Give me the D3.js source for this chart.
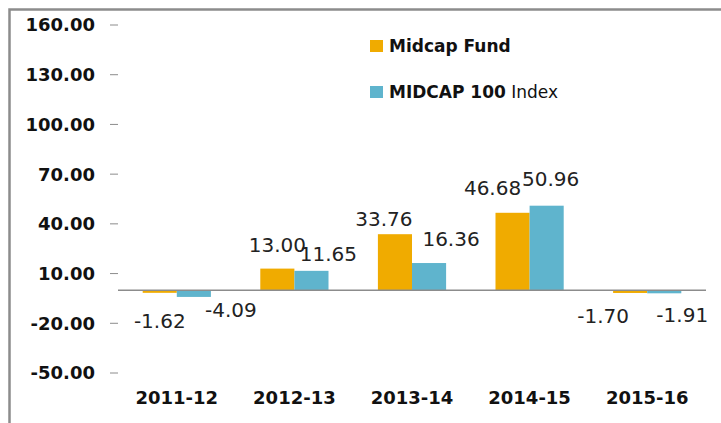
<!DOCTYPE html>
<html>
<head>
<meta charset="utf-8">
<script src="https://cdn.jsdelivr.net/npm/d3@7"></script>
<style>
  body { margin: 0; background: #fff; }
  text { font-family: "DejaVu Sans", sans-serif; }
</style>
</head>
<body>
<div id="chart"></div>
<script>
var years = ["2011-12", "2012-13", "2013-14", "2014-15", "2015-16"];
var seriesNames = ["Midcap Fund", "MIDCAP 100 Index"];
var fundValues = [-1.62, 13.00, 33.76, 46.68, -1.70];
var indexValues = [-4.09, 11.65, 16.36, 50.96, -1.91];
var yTicks = [-50, -20, 10, 40, 70, 100, 130, 160];
var colors = ["#f0ab00", "#5fb4cd"];

// hand-placed label nudges (dx, dy) relative to the bar end, as in the original
var fundNudge = [[0, 35], [0, -17], [-11, -8], [-20, -18], [-27, 30]];
var indexNudge = [[37, 20], [17, -10], [22, -17], [4, -20], [18, 29]];

var width = 721,
    height = 423,
    fmt = d => d.toFixed(2);   // plain hyphen for negatives, like the original

var svg = d3.select("#chart").append("svg")
    .attr("width", width)
    .attr("height", height);

// outer frame
svg.append("path")
    .attr("d", "M9.5," + (height + 5) + "V9.5H" + (width + 5))
    .attr("fill", "none")
    .attr("stroke", "#8c8c8c")
    .attr("stroke-width", 2.5);

var x0 = d3.scaleBand()
    .domain(years)
    .range([118, 706])
    .paddingInner(0.42)
    .paddingOuter(0.21);

var x1 = d3.scaleBand()
    .domain([0, 1])
    .range([0, x0.bandwidth()]);

var y = d3.scaleLinear()
    .domain([-50, 160])
    .range([373, 25]);

// y axis ticks and labels
var yAxis = svg.append("g");
yAxis.selectAll("line")
    .data(yTicks)
    .enter().append("line")
    .attr("x1", 110)
    .attr("x2", 118)
    .attr("y1", d => y(d))
    .attr("y2", d => y(d))
    .attr("stroke", "#8c8c8c")
    .attr("stroke-width", 1);
yAxis.selectAll("text")
    .data(yTicks)
    .enter().append("text")
    .attr("x", 95)
    .attr("y", d => y(d))
    .attr("dy", "0.36em")
    .attr("text-anchor", "end")
    .attr("font-size", 18)
    .attr("font-weight", "bold")
    .attr("fill", "#111")
    .text(fmt);

var rows = years.map(function (yr, i) {
    return { year: yr, values: [fundValues[i], indexValues[i]], nudges: [fundNudge[i], indexNudge[i]] };
});

var groups = svg.selectAll(".grp")
    .data(rows)
    .enter().append("g")
    .attr("class", "grp")
    .attr("transform", d => "translate(" + x0(d.year) + ",0)");

var bars = groups.selectAll("rect")
    .data(d => d.values.map((v, k) => ({ k: k, v: v, n: d.nudges[k] })))
    .enter();

bars.append("rect")
    .attr("x", d => x1(d.k))
    .attr("width", x1.bandwidth())
    .attr("y", d => y(Math.max(0, d.v)))
    .attr("height", d => Math.abs(y(d.v) - y(0)))
    .attr("fill", d => colors[d.k]);

bars.append("text")
    .attr("x", d => x1(d.k) + x1.bandwidth() / 2 + d.n[0])
    .attr("y", d => y(d.v) + d.n[1])
    .attr("text-anchor", "middle")
    .attr("font-size", 20)
    .attr("fill", "#222")
    .text(d => fmt(d.v));

// zero line
svg.append("line")
    .attr("x1", 118)
    .attr("x2", 706)
    .attr("y1", y(0))
    .attr("y2", y(0))
    .attr("stroke", "#8c8c8c")
    .attr("stroke-width", 1.5);

// category labels
svg.selectAll(".cat")
    .data(years)
    .enter().append("text")
    .attr("class", "cat")
    .attr("x", d => x0(d) + x0.bandwidth() / 2)
    .attr("y", 404)
    .attr("text-anchor", "middle")
    .attr("font-size", 18)
    .attr("font-weight", "bold")
    .attr("fill", "#111")
    .text(d => d);

// legend
var legend = svg.selectAll(".leg")
    .data(seriesNames)
    .enter().append("g")
    .attr("class", "leg")
    .attr("transform", (d, i) => "translate(370," + (40 + i * 46) + ")");

legend.append("rect")
    .attr("width", 13)
    .attr("height", 12)
    .attr("fill", (d, i) => colors[i]);

var legText = legend.append("text")
    .attr("x", 19)
    .attr("y", 12)
    .attr("font-size", 17)
    .attr("font-weight", "bold")
    .attr("fill", "#111");
legText.append("tspan")
    .text(d => d.replace(" Index", ""));
legText.filter(d => d.indexOf("Index") >= 0)
    .append("tspan")
    .attr("font-weight", "normal")
    .text(" Index");
</script>
</body>
</html>
